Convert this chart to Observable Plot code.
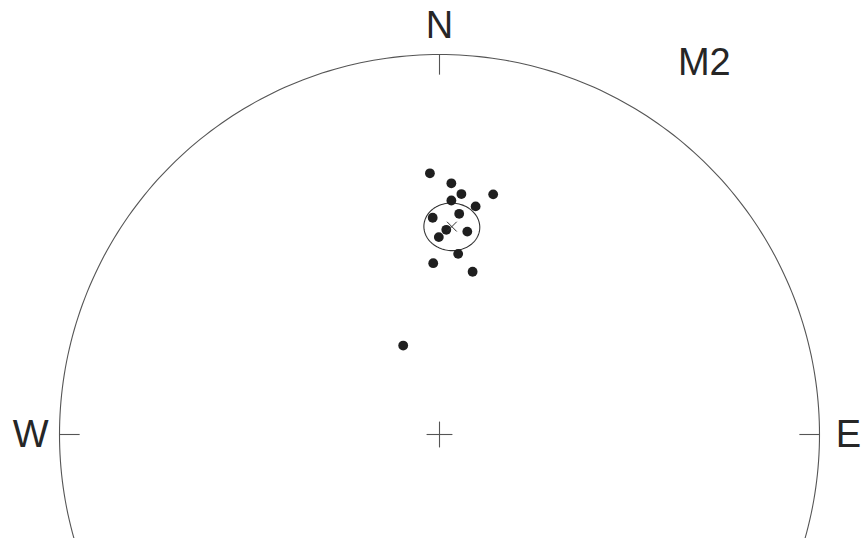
<!DOCTYPE html>
<html><head><meta charset="utf-8">
<script src="https://cdn.jsdelivr.net/npm/d3@7"></script>
<script src="https://cdn.jsdelivr.net/npm/@observablehq/plot@0.6"></script>
<style>html,body{margin:0;padding:0;background:#fff;overflow:hidden}</style>
</head><body><div id="chart"></div>
<script>
// Site label
const siteName = "M2";
// Paleomagnetic directions (lower hemisphere, equal-area)
const declinations = [357.9, 2.7, 5.2, 12.6, 2.9, 9.0, 5.1, 358.2, 1.9, 7.8, 359.8, 5.9, 357.9, 11.5, 337.8];
const inclinations = [31.8, 34.2, 36.6, 35.5, 38.3, 39.1, 41.3, 42.4, 45.2, 45.2, 46.9, 50.5, 52.8, 54.0, 69.4];
// Fisher mean and confidence cone
const meanDec = 3.4;
const meanInc = 44.4;
const alpha95 = 5.5;
// Cardinal directions (visible ones)
const cardinalLabels = ["N", "E", "W"];
const cardinalAzimuths = [0, 90, 270];

const rad = Math.PI / 180;
function project(dec, inc) {
  const r = Math.SQRT2 * Math.sin((90 - Math.abs(inc)) * rad / 2);
  return {x: r * Math.sin(dec * rad), y: r * Math.cos(dec * rad)};
}

const points = declinations.map((d, i) => project(d, inclinations[i]));
const meanPt = project(meanDec, meanInc);

// confidence cone around mean
const D = meanDec * rad, I = meanInc * rad, A = alpha95 * rad;
const m = [Math.cos(I) * Math.cos(D), Math.cos(I) * Math.sin(D), Math.sin(I)];
const u = [-Math.sin(D), Math.cos(D), 0];
const v = [m[1] * u[2] - m[2] * u[1], m[2] * u[0] - m[0] * u[2], m[0] * u[1] - m[1] * u[0]];
const cone = d3.range(0, 361, 3).map(t => {
  const c = Math.cos(t * rad), s = Math.sin(t * rad);
  const p = [0, 1, 2].map(k => Math.cos(A) * m[k] + Math.sin(A) * (c * u[k] + s * v[k]));
  const inc = Math.asin(p[2]) / rad;
  const dec = Math.atan2(p[1], p[0]) / rad;
  return project(dec, inc);
});

const circle = d3.range(0, 361, 1).map(a => ({x: Math.sin(a * rad), y: Math.cos(a * rad)}));
const tickLen = 0.053;
const ticks = cardinalAzimuths.map(a => ({
  x1: Math.sin(a * rad), y1: Math.cos(a * rad),
  x2: (1 - tickLen) * Math.sin(a * rad), y2: (1 - tickLen) * Math.cos(a * rad)
}));
const labelR = 1.076;
const labels = cardinalLabels.map((t, i) => ({
  text: t, x: labelR * Math.sin(cardinalAzimuths[i] * rad), y: labelR * Math.cos(cardinalAzimuths[i] * rad)
}));
const cs = 0.034;
const cross = [{x1: -cs, y1: 0, x2: cs, y2: 0}, {x1: 0, y1: -cs, x2: 0, y2: cs}];

const R = 380, cx = 439, cy = 434, W = 862, H = 538;
const font = "Liberation Sans, Arial, Helvetica, sans-serif";

const chart = Plot.plot({
  width: W, height: H,
  marginTop: 0, marginRight: 0, marginBottom: 0, marginLeft: 0,
  style: {background: "white", fontFamily: font},
  x: {domain: [-cx / R, (W - cx) / R], axis: null},
  y: {domain: [(cy - H) / R, cy / R], axis: null},
  marks: [
    Plot.line(circle, {x: "x", y: "y", stroke: "#555", strokeWidth: 1.1, clip: true}),
    Plot.link(ticks, {x1: "x1", y1: "y1", x2: "x2", y2: "y2", stroke: "#555", strokeWidth: 1.1}),
    Plot.link(cross, {x1: "x1", y1: "y1", x2: "x2", y2: "y2", stroke: "#555", strokeWidth: 1.1}),
    Plot.line(cone, {x: "x", y: "y", stroke: "#333", strokeWidth: 1.1}),
    Plot.dot(points, {x: "x", y: "y", r: 4.9, fill: "#1f1f1f"}),
    Plot.dot([meanPt], {x: "x", y: "y", symbol: "times", r: 4.5, stroke: "#333", strokeWidth: 1}),
    Plot.text(labels, {x: "x", y: "y", text: "text", fontSize: 38, fill: "#262626", textAnchor: "middle", lineAnchor: "middle"}),
    Plot.text([{x: 0.697, y: 0.978, text: siteName}], {x: "x", y: "y", text: "text", fontSize: 38, fill: "#262626", textAnchor: "middle", lineAnchor: "middle"})
  ]
});
document.getElementById("chart").appendChild(chart);
</script>
</body></html>
